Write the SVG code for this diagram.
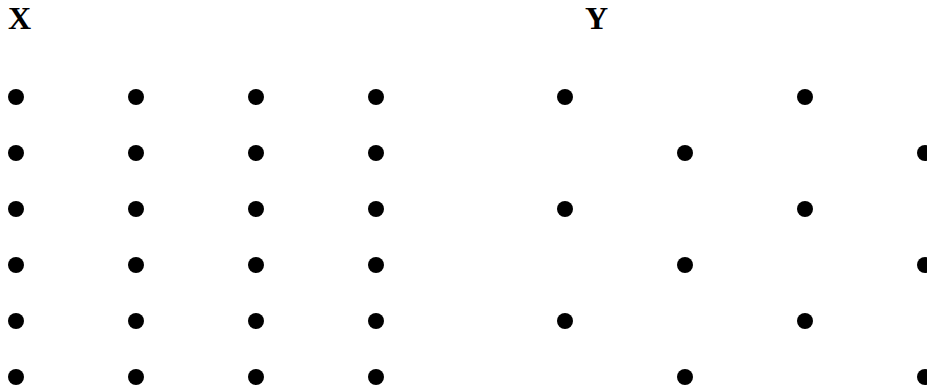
<svg xmlns="http://www.w3.org/2000/svg" width="927" height="390" viewBox="0 0 927 390">
<style>
.lbl{font-family:"Liberation Serif","Times New Roman",serif;font-weight:bold;font-size:32px;fill:#000}
.d{fill:#000}
</style>
<defs><circle id="dot" r="8" class="d"/></defs>
<rect width="927" height="390" fill="#fff"/>
<g id="labelX"><text class="lbl" x="8" y="29">X</text></g>
<g id="labelY"><text class="lbl" x="585" y="29">Y</text></g>
<g id="gridX">
<use href="#dot" x="16" y="97"/><use href="#dot" x="136" y="97"/><use href="#dot" x="256" y="97"/><use href="#dot" x="376" y="97"/>
<use href="#dot" x="16" y="153"/><use href="#dot" x="136" y="153"/><use href="#dot" x="256" y="153"/><use href="#dot" x="376" y="153"/>
<use href="#dot" x="16" y="209"/><use href="#dot" x="136" y="209"/><use href="#dot" x="256" y="209"/><use href="#dot" x="376" y="209"/>
<use href="#dot" x="16" y="265"/><use href="#dot" x="136" y="265"/><use href="#dot" x="256" y="265"/><use href="#dot" x="376" y="265"/>
<use href="#dot" x="16" y="321"/><use href="#dot" x="136" y="321"/><use href="#dot" x="256" y="321"/><use href="#dot" x="376" y="321"/>
<use href="#dot" x="16" y="377"/><use href="#dot" x="136" y="377"/><use href="#dot" x="256" y="377"/><use href="#dot" x="376" y="377"/>
</g>
<g id="gridY">
<use href="#dot" x="565" y="97"/><use href="#dot" x="805" y="97"/>
<use href="#dot" x="685" y="153"/><use href="#dot" x="925" y="153"/>
<use href="#dot" x="565" y="209"/><use href="#dot" x="805" y="209"/>
<use href="#dot" x="685" y="265"/><use href="#dot" x="925" y="265"/>
<use href="#dot" x="565" y="321"/><use href="#dot" x="805" y="321"/>
<use href="#dot" x="685" y="377"/><use href="#dot" x="925" y="377"/>
</g>
<g id="connectors"></g>
</svg>
